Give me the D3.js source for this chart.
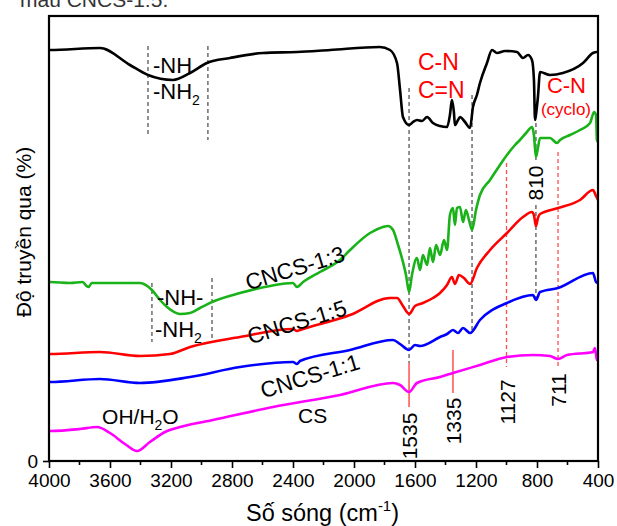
<!DOCTYPE html>
<html><head><meta charset="utf-8">
<script src="https://cdn.jsdelivr.net/npm/d3@7"></script>
<style>
body{margin:0;background:#fff}
svg{display:block}
text{font-family:"Liberation Sans",Arial,sans-serif}
</style>
</head><body>
<svg id="chart" width="617" height="526"></svg>
<script>
// ---- data (wavenumber cm^-1, transmittance a.u., curves offset as in the figure) ----
const xTickValues = [4000,3600,3200,2800,2400,2000,1600,1200,800,400];
const seriesNames = ["C3N4","CNCS-1:3","CNCS-1:5","CNCS-1:1","CS"];
const seriesColors = ["#000000","#19b219","#ff0000","#0000ff","#ff00ff"];

const topSeries = [[4000,411],[3993,411],[3666,413],[3469,396],[3351,386],[3187,381],[3075,388],[2964,398],[2813,403],[2597,408],[2374,409],[2157,411],[1830,414],[1764,411],[1718,398],[1698,371],[1679,344],[1639,336],[1613,339],[1587,341],[1554,340],[1521,344],[1482,338],[1436,335],[1390,334],[1371,346],[1358,361],[1345,349],[1338,336],[1318,341],[1305,344],[1272,339],[1239,333],[1220,354],[1194,366],[1174,378],[1128,398],[1095,411],[1062,408],[1010,410],[931,409],[892,403],[859,406],[833,401],[820,381],[813,341],[807,346],[794,364],[780,389],[715,386],[630,388],[498,398],[433,408],[407,409],[400,409]];

const cncs13 = [[4000,179],[3993,179],[3862,178],[3780,179],[3754,175],[3740,174],[3720,178],[3534,178],[3403,178],[3325,171],[3272,161],[3226,154],[3141,147],[3075,148],[3010,153],[2931,159],[2748,168],[2551,175],[2400,178],[2374,174],[2334,179],[2223,189],[2092,201],[2026,211],[1895,228],[1810,234],[1777,235],[1744,231],[1711,216],[1679,199],[1659,186],[1639,169],[1620,186],[1587,203],[1567,191],[1548,206],[1521,196],[1502,213],[1482,199],[1462,216],[1436,206],[1410,221],[1390,211],[1371,246],[1351,253],[1338,236],[1325,253],[1305,254],[1285,239],[1266,251],[1246,241],[1226,231],[1200,251],[1174,266],[1108,281],[1043,296],[997,306],[944,316],[912,321],[866,329],[833,334],[820,326],[807,304],[794,313],[780,323],[715,323],[669,318],[649,321],[584,326],[518,331],[452,338],[426,349],[413,346],[407,321],[400,319]];

const cncs15 = [[4000,107],[3993,107],[3666,109],[3403,105],[3207,107],[3075,114],[2748,124],[2400,132],[2374,130],[2354,131],[2026,146],[1764,163],[1718,163],[1679,155],[1639,147],[1600,155],[1548,158],[1482,163],[1436,168],[1390,176],[1358,184],[1338,177],[1312,186],[1279,183],[1239,177],[1194,193],[1108,211],[997,228],[892,244],[833,249],[820,246],[807,235],[794,243],[780,247],[662,253],[518,261],[433,271],[413,265],[400,261]];

const cncs11 = [[4000,79],[3993,79],[3666,82],[3403,78],[3075,84],[2748,94],[2400,99],[2374,97],[2354,100],[2026,111],[1744,121],[1698,117],[1639,111],[1600,116],[1567,115],[1436,124],[1390,127],[1351,131],[1318,128],[1285,133],[1239,128],[1174,141],[997,158],[826,166],[807,161],[780,169],[662,173],[433,188],[413,179],[400,178]];

const csSeries = [[4000,30],[3993,30],[3797,32],[3685,34],[3600,28],[3502,17],[3423,10],[3338,19],[3239,29],[3141,34],[2925,41],[2531,54],[2092,66],[1744,78],[1698,76],[1639,69],[1587,78],[1436,84],[1351,88],[1174,96],[997,104],[826,106],[715,105],[662,102],[603,106],[433,109],[420,113],[407,101],[400,101]];

const allSeries = [topSeries, cncs13, cncs15, cncs11, csSeries];

// marker lines: wavenumber, from, to, kind
const markerLines = [
  [3351,415,327,"gd"],[2958,415,321,"gd"],
  [3325,178,119,"gd"],[2931,183,119,"gd"],
  [1639,373,98,"gd"],[1639,98,54,"rs"],
  [1226,366,131,"gd"],
  [1351,111,68,"rs"],
  [1000,298,94,"rd"],
  [807,338,301,"gd"],[807,256,161,"gd"],
  [662,309,94,"rd"]
];
const peakLabels = [["1535",1639,25],["1335",1351,40],["1127",997,59],["711",662,71],["810",807,278]];
const seriesLabels = [["CNCS-1:3",2387,193],["CNCS-1:5",2374,139],["CNCS-1:1",2289,85]];

// ---- chart ----
const W = 617, H = 526;
const m = {l:49, r:19, t:16, b:65};
const svg = d3.select("#chart");
svg.append("rect").attr("width",W).attr("height",H).attr("fill","#fff");

const x = d3.scaleLinear().domain([4000,400]).range([m.l, W-m.r]);
const y = d3.scaleLinear().domain([0,445]).range([H-m.b, m.t]);

// page text cut at the top (as in the source)
svg.append("text").attr("x",20).attr("y",7).attr("font-family","'Open Sans',sans-serif")
  .attr("font-size",21).attr("fill","#333").text("mẫu CNCS-1:5.");

// marker lines
const kindStyle = {gd:["#555","4,3"], rd:["#ff4d4d","4,3"], rs:["#ff3333",null]};
svg.append("g").selectAll("line").data(markerLines).join("line")
  .attr("x1",d=>x(d[0])).attr("x2",d=>x(d[0]))
  .attr("y1",d=>y(d[1])).attr("y2",d=>y(d[2]))
  .attr("stroke",d=>kindStyle[d[3]][0]).attr("stroke-width",1.3)
  .attr("stroke-dasharray",d=>kindStyle[d[3]][1]);

// curves
const line = d3.line().x(d=>x(d[0])).y(d=>y(d[1])).curve(d3.curveMonotoneX);
svg.append("g").selectAll("path").data(allSeries).join("path")
  .attr("d",line).attr("fill","none")
  .attr("stroke",(d,i)=>seriesColors[i])
  .attr("stroke-width",2.6)
  .attr("stroke-linejoin","round");

// axes
const xAxis = d3.axisBottom(x).tickValues(xTickValues).tickSize(7).tickPadding(6).tickFormat(d3.format("d"));
const gx = svg.append("g").attr("transform",`translate(0,${H-m.b})`).call(xAxis);
gx.selectAll(".tick text").attr("font-size",19).attr("fill","#000");
gx.selectAll(".tick line").attr("stroke","#000").attr("stroke-width",1.6);
gx.select(".domain").remove();
const minor = d3.range(3800,400,-400);
svg.append("g").selectAll("line").data(minor).join("line")
  .attr("x1",d=>x(d)).attr("x2",d=>x(d)).attr("y1",H-m.b).attr("y2",H-m.b+4)
  .attr("stroke","#000").attr("stroke-width",1.6);

const yAxis = d3.axisLeft(y).tickValues([0]).tickSize(6).tickPadding(5);
const gy = svg.append("g").attr("transform",`translate(${m.l},0)`).call(yAxis);
gy.selectAll(".tick text").attr("font-size",19).attr("fill","#000");
gy.selectAll(".tick line").attr("stroke","#000").attr("stroke-width",1.6);
gy.select(".domain").remove();

// frame
svg.append("rect").attr("x",m.l).attr("y",m.t).attr("width",W-m.l-m.r).attr("height",H-m.t-m.b)
  .attr("fill","none").attr("stroke","#000").attr("stroke-width",2.2);

// axis titles
const xt = svg.append("text").attr("x",(m.l+W-m.r)/2-1).attr("y",521).attr("text-anchor","middle").attr("font-size",23.5);
xt.append("tspan").text("Số sóng (cm");
xt.append("tspan").attr("font-size",15).attr("dy",-10).text("-1");
xt.append("tspan").attr("dy",10).text(")");
svg.append("text").attr("transform","translate(31,232) rotate(-90)").attr("text-anchor","middle")
  .attr("font-size",21).text("Độ truyền qua (%)");

// annotations
function sub(sel, base, s, after){
  sel.append("tspan").text(base);
  sel.append("tspan").attr("font-size",14).attr("dy",6).text(s);
  if(after) sel.append("tspan").attr("dy",-6).text(after);
}
svg.append("text").attr("x",x(3318)).attr("y",y(388)).attr("font-size",22).text("-NH");
sub(svg.append("text").attr("x",x(3318)).attr("y",y(362)).attr("font-size",22), "-NH","2");
svg.append("text").attr("x",x(3292)).attr("y",y(156)).attr("font-size",22).text("-NH-");
sub(svg.append("text").attr("x",x(3305)).attr("y",y(124)).attr("font-size",22), "-NH","2");
sub(svg.append("text").attr("x",x(3652)).attr("y",y(37)).attr("font-size",21), "OH/H","2","O");
svg.append("text").attr("x",x(2367)).attr("y",y(38)).attr("font-size",21).text("CS");
svg.append("text").attr("x",x(1581)).attr("y",y(391)).attr("font-size",23).attr("fill","#ff0000").text("C-N");
svg.append("text").attr("x",x(1581)).attr("y",y(363)).attr("font-size",23).attr("fill","#ff0000").text("C=N");
svg.append("text").attr("x",x(735)).attr("y",y(368)).attr("font-size",22).attr("fill","#ff0000").text("C-N");
svg.append("text").attr("x",x(774)).attr("y",y(346)).attr("font-size",17).attr("fill","#ff0000").text("(cyclo)");

svg.append("g").selectAll("text").data(seriesLabels).join("text")
  .attr("transform",d=>`translate(${x(d[1])},${y(d[2])}) rotate(-17)`)
  .attr("text-anchor","middle").attr("dy","0.35em").attr("font-size",22.5).text(d=>d[0]);

svg.append("g").selectAll("text").data(peakLabels).join("text")
  .attr("transform",d=>`translate(${x(d[1])},${y(d[2])}) rotate(-90)`)
  .attr("text-anchor","middle").attr("dy","0.36em").attr("font-size",21).text(d=>d[0]);
</script>
</body></html>
